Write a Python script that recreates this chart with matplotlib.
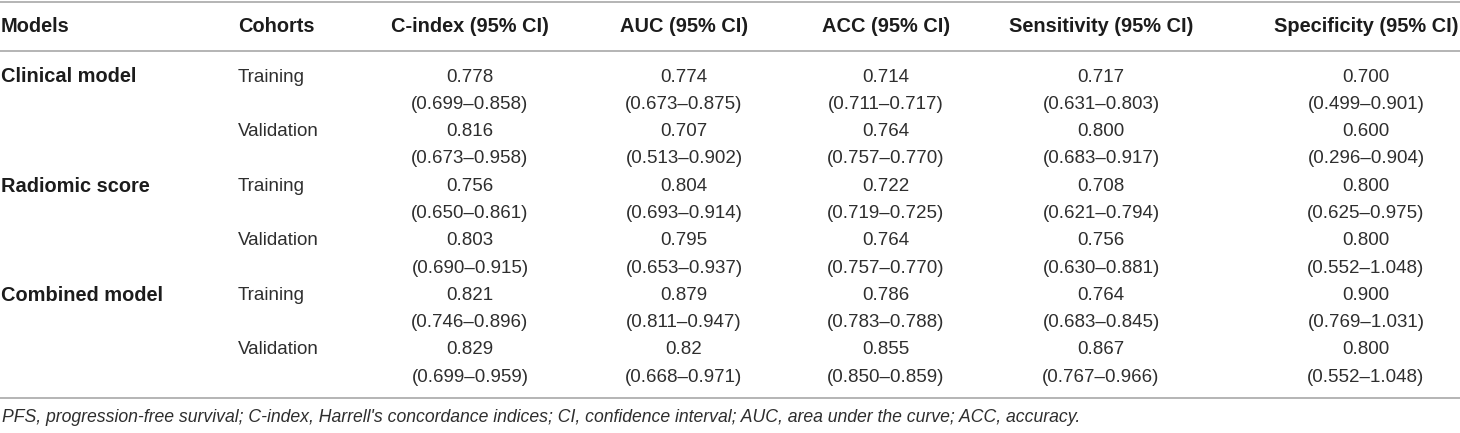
import matplotlib
matplotlib.use("Agg")
import matplotlib.pyplot as plt

plt.rcParams['font.family'] = ['Liberation Sans', 'DejaVu Sans']

# table content
headers = ["Models", "Cohorts", "C-index (95% CI)", "AUC (95% CI)", "ACC (95% CI)",
           "Sensitivity (95% CI)", "Specificity (95% CI)"]
models = ["Clinical model", "Radiomic score", "Combined model"]
cohorts = ["Training", "Validation"]

cindex = ["0.778", "0.816", "0.756", "0.803", "0.821", "0.829"]
cindex_ci = ["(0.699–0.858)", "(0.673–0.958)", "(0.650–0.861)", "(0.690–0.915)", "(0.746–0.896)", "(0.699–0.959)"]
auc = ["0.774", "0.707", "0.804", "0.795", "0.879", "0.82"]
auc_ci = ["(0.673–0.875)", "(0.513–0.902)", "(0.693–0.914)", "(0.653–0.937)", "(0.811–0.947)", "(0.668–0.971)"]
acc = ["0.714", "0.764", "0.722", "0.764", "0.786", "0.855"]
acc_ci = ["(0.711–0.717)", "(0.757–0.770)", "(0.719–0.725)", "(0.757–0.770)", "(0.783–0.788)", "(0.850–0.859)"]
sens = ["0.717", "0.800", "0.708", "0.756", "0.764", "0.867"]
sens_ci = ["(0.631–0.803)", "(0.683–0.917)", "(0.621–0.794)", "(0.630–0.881)", "(0.683–0.845)", "(0.767–0.966)"]
spec = ["0.700", "0.600", "0.800", "0.800", "0.900", "0.800"]
spec_ci = ["(0.499–0.901)", "(0.296–0.904)", "(0.625–0.975)", "(0.552–1.048)", "(0.769–1.031)", "(0.552–1.048)"]

footnote = ("PFS, progression-free survival; C-index, Harrell's concordance indices; "
            "CI, confidence interval; AUC, area under the curve; ACC, accuracy.")

# layout in pixel units
W, H = 1460, 433
col_left = [1, 238]
col_center = [470, 684, 886, 1101, 1366]
header_y = 26
row0_y = 77
line_step = 27.3
fs = 13.5
fs_bold = 14.4
txt_color = "#2e2e2e"
bold_color = "#1c1c1c"
line_color = "#a8a8a8"

fig = plt.figure(figsize=(W / 100, H / 100), dpi=100)
ax = fig.add_axes([0, 0, 1, 1])
ax.set_xlim(0, W)
ax.set_ylim(H, 0)
ax.axis("off")

ax.axhline(1.5, color=line_color, lw=1.2)
ax.axhline(51, color=line_color, lw=1.2)
ax.axhline(398, color=line_color, lw=1.2)

for i, h in enumerate(headers):
    if i < 2:
        ax.text(col_left[i], header_y, h, ha="left", va="center",
                fontsize=fs_bold, fontweight="bold", color=bold_color)
    else:
        ax.text(col_center[i - 2], header_y, h, ha="center", va="center",
                fontsize=fs_bold, fontweight="bold", color=bold_color)

values = [cindex, auc, acc, sens, spec]
cis = [cindex_ci, auc_ci, acc_ci, sens_ci, spec_ci]

for r in range(6):
    y = row0_y + 2 * r * line_step
    if r % 2 == 0:
        ax.text(col_left[0], y, models[r // 2], ha="left", va="center",
                fontsize=fs_bold, fontweight="bold", color=bold_color)
    ax.text(col_left[1], y, cohorts[r % 2], ha="left", va="center",
            fontsize=fs, color=txt_color)
    for c in range(5):
        ax.text(col_center[c], y, values[c][r], ha="center", va="center",
                fontsize=fs, color=txt_color)
        ax.text(col_center[c], y + line_step, cis[c][r], ha="center", va="center",
                fontsize=fs, color=txt_color)

ax.text(2, 418, footnote, ha="left", va="center", fontsize=12.7,
        style="italic", color=txt_color)

fig.savefig("out.png", dpi=100)
